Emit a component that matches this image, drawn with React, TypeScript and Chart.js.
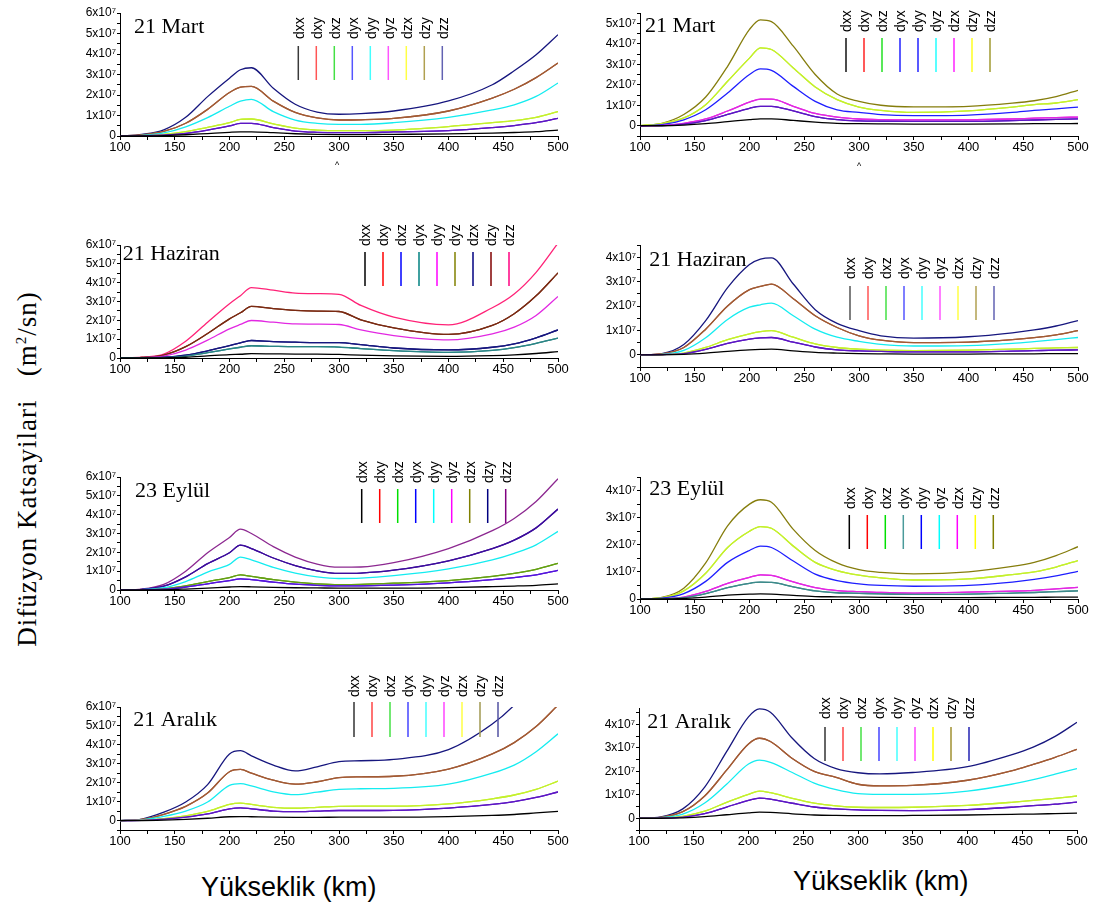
import React, { useEffect, useRef } from 'react';
import { Chart, registerables } from 'chart.js';

Chart.register(...registerables);

// ---------- shared axes ----------
const ALTITUDE_KM = [100, 120, 140, 160, 180, 200, 210, 220, 240, 260, 280, 300, 320, 350, 400, 440, 460, 480, 500];
const X_MAJOR = [100, 150, 200, 250, 300, 350, 400, 450, 500];
const X_MINOR = [125, 175, 225, 275, 325, 375, 425, 475];
const COMPONENTS = ['dxx', 'dxy', 'dxz', 'dyx', 'dyy', 'dyz', 'dzx', 'dzy', 'dzz'];

// values in units of 10^7 m^2/sn  (dyx = dxy, dzx = dxz, dzy = dyz)
// ---------- 21 Mart (left) ----------
const martA_dxx = [0, 0, 0.02, 0.06, 0.12, 0.18, 0.2, 0.2, 0.16, 0.11, 0.08, 0.07, 0.07, 0.08, 0.1, 0.14, 0.17, 0.21, 0.29];
const martA_dxy = [0, 0.01, 0.05, 0.13, 0.29, 0.49, 0.62, 0.62, 0.41, 0.24, 0.18, 0.16, 0.16, 0.2, 0.26, 0.41, 0.51, 0.65, 0.86];
const martA_dxz = [0, 0.01, 0.08, 0.21, 0.42, 0.65, 0.81, 0.83, 0.59, 0.38, 0.29, 0.26, 0.26, 0.29, 0.46, 0.65, 0.75, 0.91, 1.19];
const martA_dyy = [0, 0.03, 0.15, 0.45, 0.9, 1.45, 1.7, 1.79, 1.19, 0.78, 0.62, 0.57, 0.57, 0.65, 0.91, 1.27, 1.52, 1.93, 2.58];
const martA_dyz = [0, 0.05, 0.22, 0.62, 1.3, 2.12, 2.38, 2.42, 1.7, 1.15, 0.88, 0.78, 0.79, 0.86, 1.22, 1.85, 2.28, 2.85, 3.56];
const martA_dzz = [0, 0.08, 0.3, 0.91, 1.92, 2.82, 3.23, 3.33, 2.33, 1.55, 1.17, 1.06, 1.09, 1.22, 1.71, 2.5, 3.18, 3.96, 4.94];
// ---------- 21 Mart (right) ----------
const martB_dxx = [0, 0, 0.03, 0.1, 0.2, 0.3, 0.34, 0.34, 0.26, 0.18, 0.12, 0.1, 0.09, 0.08, 0.08, 0.09, 0.1, 0.1, 0.11];
const martB_dxy = [0, 0.01, 0.08, 0.25, 0.55, 0.85, 0.95, 0.95, 0.72, 0.45, 0.3, 0.24, 0.22, 0.21, 0.21, 0.25, 0.28, 0.31, 0.34];
const martB_dxz = [0, 0.02, 0.12, 0.33, 0.72, 1.15, 1.3, 1.3, 0.95, 0.6, 0.42, 0.33, 0.3, 0.29, 0.29, 0.33, 0.37, 0.4, 0.42];
const martB_dyy = [0, 0.05, 0.29, 0.78, 1.6, 2.5, 2.77, 2.7, 1.92, 1.19, 0.78, 0.65, 0.54, 0.49, 0.52, 0.65, 0.75, 0.82, 0.91];
const martB_dyz = [0, 0.1, 0.38, 1.03, 2.17, 3.3, 3.8, 3.72, 2.82, 1.89, 1.27, 0.91, 0.75, 0.65, 0.73, 0.91, 1.03, 1.11, 1.27];
const martB_dzz = [0, 0.12, 0.55, 1.4, 2.9, 4.7, 5.16, 5.08, 3.88, 2.5, 1.55, 1.19, 1.0, 0.92, 0.95, 1.1, 1.22, 1.42, 1.73];
// ---------- 21 Haziran (left) ----------
const hazA_dxx = [0, 0, 0.01, 0.04, 0.11, 0.18, 0.2, 0.23, 0.22, 0.21, 0.21, 0.19, 0.15, 0.11, 0.09, 0.13, 0.17, 0.24, 0.34];
const hazA_dxy = [0, 0, 0.02, 0.1, 0.28, 0.48, 0.57, 0.65, 0.62, 0.6, 0.6, 0.58, 0.5, 0.39, 0.3, 0.4, 0.55, 0.78, 1.06];
const hazA_dxz = [0, 0.01, 0.04, 0.15, 0.38, 0.66, 0.8, 0.93, 0.87, 0.84, 0.82, 0.82, 0.71, 0.53, 0.43, 0.57, 0.75, 1.07, 1.49];
const hazA_dyy = [0, 0.02, 0.1, 0.42, 0.95, 1.55, 1.78, 1.99, 1.9, 1.81, 1.8, 1.78, 1.49, 1.19, 0.96, 1.28, 1.64, 2.26, 3.27];
const hazA_dyz = [0, 0.03, 0.15, 0.6, 1.3, 2.08, 2.4, 2.74, 2.62, 2.53, 2.49, 2.47, 2.03, 1.6, 1.25, 1.73, 2.35, 3.3, 4.52];
const hazA_dzz = [0, 0.04, 0.21, 0.89, 1.9, 2.88, 3.31, 3.74, 3.6, 3.45, 3.42, 3.38, 2.79, 2.17, 1.76, 2.67, 3.4, 4.55, 6.1];
// ---------- 21 Haziran (right) ----------
const hazB_dxx = [0, 0, 0.02, 0.07, 0.14, 0.2, 0.22, 0.23, 0.16, 0.1, 0.07, 0.05, 0.04, 0.03, 0.03, 0.04, 0.04, 0.05, 0.05];
const hazB_dxy = [0, 0.01, 0.05, 0.22, 0.47, 0.64, 0.69, 0.71, 0.52, 0.32, 0.2, 0.16, 0.14, 0.12, 0.12, 0.15, 0.17, 0.19, 0.2];
const hazB_dxz = [0, 0.01, 0.07, 0.3, 0.62, 0.86, 0.95, 0.99, 0.72, 0.45, 0.3, 0.23, 0.19, 0.17, 0.19, 0.23, 0.26, 0.28, 0.3];
const hazB_dyy = [0, 0.02, 0.18, 0.7, 1.45, 1.95, 2.05, 2.12, 1.6, 1.05, 0.72, 0.55, 0.43, 0.36, 0.38, 0.47, 0.54, 0.62, 0.71];
const hazB_dyz = [0, 0.04, 0.3, 1.05, 2.0, 2.67, 2.8, 2.9, 2.3, 1.6, 1.12, 0.78, 0.6, 0.5, 0.52, 0.62, 0.7, 0.82, 0.99];
const hazB_dzz = [0, 0.05, 0.42, 1.4, 2.75, 3.7, 3.92, 3.97, 2.9, 1.85, 1.29, 0.99, 0.78, 0.68, 0.74, 0.9, 1.02, 1.18, 1.4];
// ---------- 23 Eylül (left) ----------
const eylA_dxx = [0, 0, 0.01, 0.05, 0.1, 0.16, 0.18, 0.17, 0.14, 0.12, 0.11, 0.1, 0.1, 0.1, 0.13, 0.18, 0.21, 0.25, 0.32];
const eylA_dxy = [0, 0.01, 0.04, 0.16, 0.33, 0.5, 0.59, 0.55, 0.42, 0.31, 0.25, 0.22, 0.22, 0.26, 0.38, 0.55, 0.66, 0.8, 1.04];
const eylA_dxz = [0, 0.01, 0.06, 0.22, 0.45, 0.66, 0.8, 0.72, 0.55, 0.42, 0.33, 0.29, 0.3, 0.36, 0.5, 0.72, 0.88, 1.1, 1.41];
const eylA_dyy = [0, 0.02, 0.12, 0.45, 0.95, 1.36, 1.75, 1.6, 1.2, 0.9, 0.7, 0.61, 0.63, 0.76, 1.12, 1.6, 1.95, 2.4, 3.11];
const eylA_dyz = [0, 0.03, 0.2, 0.7, 1.4, 1.98, 2.38, 2.2, 1.7, 1.3, 1.02, 0.88, 0.9, 1.05, 1.55, 2.2, 2.65, 3.3, 4.3];
const eylA_dzz = [0, 0.05, 0.3, 1.0, 1.98, 2.79, 3.23, 3.0, 2.3, 1.75, 1.38, 1.21, 1.22, 1.45, 2.2, 3.15, 3.8, 4.7, 5.91];
// ---------- 23 Eylül (right) ----------
const eylB_dxx = [0, 0, 0.02, 0.07, 0.14, 0.18, 0.19, 0.18, 0.13, 0.09, 0.08, 0.07, 0.06, 0.05, 0.05, 0.06, 0.06, 0.07, 0.07];
const eylB_dxy = [0, 0.01, 0.05, 0.2, 0.42, 0.58, 0.62, 0.61, 0.45, 0.3, 0.23, 0.21, 0.19, 0.17, 0.18, 0.22, 0.24, 0.27, 0.3];
const eylB_dxz = [0, 0.01, 0.07, 0.28, 0.58, 0.8, 0.89, 0.87, 0.63, 0.42, 0.31, 0.27, 0.24, 0.22, 0.25, 0.29, 0.32, 0.37, 0.43];
const eylB_dyy = [0, 0.03, 0.2, 0.65, 1.35, 1.79, 1.95, 1.9, 1.4, 0.92, 0.68, 0.56, 0.5, 0.47, 0.5, 0.62, 0.72, 0.85, 1.02];
const eylB_dyz = [0, 0.04, 0.3, 0.95, 1.9, 2.5, 2.67, 2.61, 1.95, 1.35, 1.05, 0.88, 0.78, 0.7, 0.74, 0.9, 1.0, 1.18, 1.42];
const eylB_dzz = [0, 0.06, 0.4, 1.33, 2.7, 3.5, 3.66, 3.57, 2.57, 1.79, 1.33, 1.08, 0.98, 0.93, 1.0, 1.2, 1.35, 1.6, 1.93];
// ---------- 21 Aralık (left) ----------
const araA_dxx = [0, 0, 0.02, 0.06, 0.12, 0.2, 0.21, 0.2, 0.18, 0.17, 0.17, 0.18, 0.18, 0.18, 0.21, 0.27, 0.32, 0.4, 0.48];
const araA_dxy = [0, 0.01, 0.07, 0.18, 0.35, 0.62, 0.67, 0.62, 0.5, 0.47, 0.5, 0.53, 0.53, 0.54, 0.66, 0.85, 1.0, 1.22, 1.51];
const araA_dxz = [0, 0.02, 0.1, 0.25, 0.48, 0.86, 0.92, 0.85, 0.7, 0.65, 0.7, 0.75, 0.76, 0.76, 0.88, 1.15, 1.35, 1.65, 2.08];
const araA_dyy = [0, 0.04, 0.22, 0.5, 0.98, 1.86, 1.95, 1.83, 1.52, 1.37, 1.5, 1.65, 1.68, 1.7, 1.92, 2.5, 2.93, 3.64, 4.58];
const araA_dyz = [0, 0.06, 0.33, 0.75, 1.45, 2.58, 2.7, 2.5, 2.13, 1.92, 2.05, 2.27, 2.31, 2.34, 2.72, 3.52, 4.12, 4.97, 6.1];
const araA_dzz = [0, 0.08, 0.44, 0.98, 1.9, 3.52, 3.69, 3.42, 2.93, 2.62, 2.84, 3.11, 3.16, 3.23, 3.75, 5.1, 6.1, 7.5, 9.0];
// ---------- 21 Aralık (right) ----------
const araB_dxx = [0, 0, 0.02, 0.07, 0.15, 0.23, 0.26, 0.25, 0.19, 0.14, 0.12, 0.11, 0.11, 0.12, 0.14, 0.17, 0.18, 0.2, 0.22];
const araB_dxy = [0, 0.01, 0.05, 0.2, 0.48, 0.76, 0.86, 0.82, 0.64, 0.48, 0.4, 0.36, 0.34, 0.33, 0.37, 0.47, 0.54, 0.6, 0.69];
const araB_dxz = [0, 0.01, 0.08, 0.3, 0.68, 1.02, 1.16, 1.09, 0.85, 0.65, 0.53, 0.47, 0.46, 0.47, 0.55, 0.68, 0.76, 0.85, 0.95];
const araB_dyy = [0, 0.03, 0.18, 0.65, 1.45, 2.31, 2.48, 2.38, 1.95, 1.5, 1.22, 1.05, 1.02, 1.02, 1.16, 1.45, 1.65, 1.88, 2.12];
const araB_dyz = [0, 0.04, 0.28, 0.95, 2.05, 3.17, 3.41, 3.27, 2.55, 2.0, 1.74, 1.45, 1.38, 1.4, 1.62, 2.02, 2.3, 2.6, 2.94];
const araB_dzz = [0, 0.06, 0.4, 1.33, 2.84, 4.32, 4.66, 4.52, 3.41, 2.55, 2.12, 1.94, 1.89, 1.95, 2.2, 2.7, 3.03, 3.49, 4.09];

// y tick labels (x10^7)
const Y_LABELS_6 = [0, 1, 2, 3, 4, 5, 6];
const Y_LABELS_5 = [0, 1, 2, 3, 4, 5];
const Y_LABELS_4 = [0, 1, 2, 3, 4];

// ---------- colours ----------
const C = {
  black: '#000000', navy: '#16167e', brown: '#a25a34', cyan: '#14ecf0', yg: '#c4f02c',
  purple: '#5c16c4', olive: '#857d0c', blue: '#1e1eff', magenta: '#e228e2', pink: '#ff2277',
  maroon: '#7a2a12', teal: '#2a8585', violet: '#5414dc', indigo: '#3c0c9c', plum: '#8c2890',
  olivegreen: '#64a012', tealgray: '#3c8a8a',
};

type Curve = [string, number[], string];
type PanelCfg = {
  title: string;
  left: number; top: number; width: number; height: number;
  yMin: number; yMax: number; yLabels: number[];
  curves: Curve[];
  legendColors: string[];
  titleDx: number; titleDy: number;
  legX: number; legTextBottom: number; legLineTop: number; legLineBottom: number;
};

const build = (d: number[][], cols: string[]): Curve[] => {
  // d = [dxx, dxy, dxz, dyy, dyz, dzz]; cols same order
  const [xx, xy, xz, yy, yz, zz] = d;
  const [cxx, cxy, cxz, cyy, cyz, czz] = cols;
  return [
    ['dxx', xx, cxx], ['dxy', xy, cxy], ['dxz', xz, cxz], ['dyx', xy, cxy], ['dyy', yy, cyy],
    ['dyz', yz, cyz], ['dzx', xz, cxz], ['dzy', yz, cyz], ['dzz', zz, czz],
  ];
};

const STD_COLS = [C.black, C.purple, C.yg, C.cyan, C.brown, C.navy];

const PANELS: PanelCfg[] = [
  {
    title: '21 Mart', left: 120, top: 13, width: 438, height: 123, yMin: 0, yMax: 6, yLabels: Y_LABELS_6,
    curves: build([martA_dxx, martA_dxy, martA_dxz, martA_dyy, martA_dyz, martA_dzz], STD_COLS),
    legendColors: ['#3a3a3a', '#ff5555', '#44e044', '#5555ff', '#44ffff', '#ff55ff', '#ffff44', '#b0a050', '#6262b2'],
    titleDx: 14, titleDy: 20, legX: 178.3, legTextBottom: 26, legLineTop: 33, legLineBottom: 67,
  },
  {
    title: '21 Mart', left: 640, top: 13, width: 438, height: 123, yMin: -0.5, yMax: 5.5, yLabels: Y_LABELS_5,
    curves: build([martB_dxx, martB_dxy, martB_dxz, martB_dyy, martB_dyz, martB_dzz], [C.black, C.purple, C.magenta, C.blue, C.yg, C.olive]),
    legendColors: ['#111111', '#ff2222', '#22e022', '#2222ff', '#2222ff', '#22ffff', '#ff22ff', '#ffff22', '#a09a30'],
    titleDx: 5, titleDy: 18.7, legX: 206, legTextBottom: 19, legLineTop: 25, legLineBottom: 59,
  },
  {
    title: '21 Haziran', left: 120, top: 245, width: 438, height: 113, yMin: 0, yMax: 6, yLabels: Y_LABELS_6,
    curves: build([hazA_dxx, hazA_dxy, hazA_dxz, hazA_dyy, hazA_dyz, hazA_dzz], [C.black, C.teal, C.navy, C.magenta, C.maroon, C.pink]),
    legendColors: ['#000000', '#ff0000', '#0000ff', '#008080', '#ff00ff', '#808000', '#000080', '#800000', '#ff0080'],
    titleDx: 2.7, titleDy: 15, legX: 245, legTextBottom: 1, legLineTop: 7, legLineBottom: 41,
  },
  {
    title: '21 Haziran', left: 640, top: 245, width: 438, height: 122, yMin: -0.5, yMax: 4.5, yLabels: Y_LABELS_4,
    curves: build([hazB_dxx, hazB_dxy, hazB_dxz, hazB_dyy, hazB_dyz, hazB_dzz], STD_COLS),
    legendColors: ['#555555', '#ff5555', '#44e044', '#5555ff', '#44ffff', '#ff55ff', '#ffff44', '#b0a050', '#6262b2'],
    titleDx: 9.3, titleDy: 21, legX: 210, legTextBottom: 34, legLineTop: 41, legLineBottom: 75,
  },
  {
    title: '23 Eylül', left: 120, top: 477, width: 438, height: 113, yMin: 0, yMax: 6, yLabels: Y_LABELS_6,
    curves: build([eylA_dxx, eylA_dxy, eylA_dxz, eylA_dyy, eylA_dyz, eylA_dzz], [C.black, C.violet, C.olivegreen, C.cyan, C.indigo, C.plum]),
    legendColors: ['#000000', '#ff0000', '#00e000', '#0000ff', '#00ffff', '#ff00ff', '#808000', '#000080', '#800080'],
    titleDx: 15, titleDy: 19.7, legX: 241.7, legTextBottom: 6, legLineTop: 12, legLineBottom: 46,
  },
  {
    title: '23 Eylül', left: 640, top: 477, width: 438, height: 122, yMin: 0, yMax: 4.5, yLabels: Y_LABELS_4,
    curves: build([eylB_dxx, eylB_dxy, eylB_dxz, eylB_dyy, eylB_dyz, eylB_dzz], [C.black, C.tealgray, C.magenta, C.blue, C.yg, C.olive]),
    legendColors: ['#000000', '#ff0000', '#00e000', '#4a9a9a', '#0000ff', '#00ffff', '#ff00ff', '#ffff00', '#808000'],
    titleDx: 9.3, titleDy: 18, legX: 209.3, legTextBottom: 32, legLineTop: 38, legLineBottom: 72,
  },
  {
    title: '21 Aralık', left: 120, top: 707, width: 438, height: 123, yMin: -0.5, yMax: 6, yLabels: Y_LABELS_6,
    curves: build([araA_dxx, araA_dxy, araA_dxz, araA_dyy, araA_dyz, araA_dzz], STD_COLS),
    legendColors: ['#333333', '#ff4444', '#44e044', '#4444ff', '#44ffff', '#ff44ff', '#ffff44', '#a09850', '#5252a2'],
    titleDx: 13.3, titleDy: 19, legX: 234, legTextBottom: -10, legLineTop: -5, legLineBottom: 30,
  },
  {
    title: '21 Aralık', left: 639, top: 708, width: 438, height: 122, yMin: -0.5, yMax: 4.7, yLabels: Y_LABELS_4,
    curves: build([araB_dxx, araB_dxy, araB_dxz, araB_dyy, araB_dyz, araB_dzz], STD_COLS),
    legendColors: ['#333333', '#ff4444', '#44e044', '#4444ff', '#44ffff', '#ff44ff', '#ffff00', '#a09030', '#2222b2'],
    titleDx: 8.3, titleDy: 20.3, legX: 186, legTextBottom: 11, legLineTop: 19, legLineBottom: 53,
  },
];

// canvas frame around each plot area
const Y_AXIS_W = 62;
const X_AXIS_H = 28;
const PAD_TOP = 45;
const PAD_RIGHT = 18;
const PAD_BOTTOM = 2;

const SANS = '"Liberation Sans", Arial, Helvetica, sans-serif';
const SERIF = '"Liberation Serif", "Times New Roman", Times, serif';

function decorPlugin(p: PanelCfg) {
  return {
    id: 'decor',
    afterDraw(chart: any) {
      const { ctx, chartArea: a } = chart;
      ctx.save();
      ctx.fillStyle = '#000';
      ctx.font = `22px ${SERIF}`;
      ctx.textAlign = 'left';
      ctx.textBaseline = 'alphabetic';
      ctx.fillText(p.title, a.left + p.titleDx, a.top + p.titleDy);
      COMPONENTS.forEach((lab, i) => {
        const x = a.left + p.legX + i * 18;
        ctx.strokeStyle = p.legendColors[i];
        ctx.lineWidth = 1.5;
        ctx.beginPath();
        ctx.moveTo(x, a.top + p.legLineTop);
        ctx.lineTo(x, a.top + p.legLineBottom);
        ctx.stroke();
        ctx.save();
        ctx.translate(x + 1.5, a.top + p.legTextBottom);
        ctx.rotate(-Math.PI / 2);
        ctx.font = `14px ${SANS}`;
        ctx.textAlign = 'left';
        ctx.textBaseline = 'middle';
        ctx.fillStyle = '#000';
        ctx.fillText(lab, 0, 0);
        ctx.restore();
      });
      ctx.restore();
    },
  };
}

function Panel({ cfg }: { cfg: PanelCfg }) {
  const ref = useRef<HTMLCanvasElement>(null);
  const cw = cfg.width + Y_AXIS_W + PAD_RIGHT;
  const ch = cfg.height + PAD_TOP + X_AXIS_H + PAD_BOTTOM;

  useEffect(() => {
    const canvas = ref.current;
    if (!canvas) return;
    const yTicks: number[] = [];
    for (let v = cfg.yMin; v <= cfg.yMax + 1e-9; v += 0.5) yTicks.push(Math.round(v * 10) / 10);
    const xTicks = [...X_MAJOR, ...X_MINOR].sort((a, b) => a - b);

    const chart = new Chart(canvas, {
      type: 'line',
      data: {
        datasets: cfg.curves.map(([label, values, color]) => ({
          label,
          data: ALTITUDE_KM.map((x, i) => ({ x, y: values[i] })),
          borderColor: color,
          backgroundColor: color,
          borderWidth: 1.3,
          pointRadius: 0,
          cubicInterpolationMode: 'monotone' as const,
          fill: false,
        })),
      },
      options: {
        responsive: false,
        animation: false,
        events: [],
        layout: { padding: { left: 0, top: PAD_TOP, right: PAD_RIGHT, bottom: PAD_BOTTOM } },
        plugins: { legend: { display: false }, tooltip: { enabled: false }, title: { display: false } },
        scales: {
          x: {
            type: 'linear',
            min: 100,
            max: 500,
            afterBuildTicks: (s: any) => { s.ticks = xTicks.map((v) => ({ value: v })); },
            afterFit: (s: any) => { s.height = X_AXIS_H; },
            ticks: {
              autoSkip: false, maxRotation: 0, minRotation: 0, padding: 0, color: '#000',
              font: { family: SANS, size: 13 },
              callback: (v: any) => (X_MAJOR.includes(Number(v)) ? String(v) : ''),
            },
            grid: { display: true, drawOnChartArea: false, drawTicks: true, tickLength: 4, color: '#000', lineWidth: 1 },
            border: { display: true, color: '#000', width: 1 },
          },
          y: {
            type: 'linear',
            min: cfg.yMin,
            max: cfg.yMax,
            afterBuildTicks: (s: any) => { s.ticks = yTicks.map((v) => ({ value: v })); },
            afterFit: (s: any) => { s.width = Y_AXIS_W; },
            ticks: {
              autoSkip: false, padding: 1, color: '#000',
              font: { family: SANS, size: 12 },
              callback: (v: any) => {
                const n = Number(v);
                if (!cfg.yLabels.includes(n)) return '';
                return n === 0 ? '0' : `${n}x10\u2077`;
              },
            },
            grid: { display: true, drawOnChartArea: false, drawTicks: true, tickLength: 3, color: '#000', lineWidth: 1 },
            border: { display: true, color: '#000', width: 1 },
          },
        },
      },
      plugins: [decorPlugin(cfg)],
    } as any);
    return () => chart.destroy();
  }, [cfg]);

  return (
    <canvas
      ref={ref}
      width={cw}
      height={ch}
      style={{ position: 'absolute', left: cfg.left - Y_AXIS_W, top: cfg.top - PAD_TOP, width: cw, height: ch }}
    />
  );
}

export default function App() {
  return (
    <div style={{ position: 'absolute', left: 0, top: 0, width: 1093, height: 907, background: '#fff', overflow: 'hidden' }}>
      {PANELS.map((p, i) => (
        <Panel key={i} cfg={p} />
      ))}
      <div
        style={{
          position: 'absolute', left: 27 - 210, top: 469 - 17, width: 420, height: 34, lineHeight: '34px',
          textAlign: 'center', transform: 'rotate(-90deg)', fontFamily: SERIF, fontSize: 27,
          letterSpacing: 1, whiteSpace: 'pre', color: '#000',
        }}
      >
        {'Difüzyon Katsayilari   (m'}
        <span style={{ fontSize: 15, verticalAlign: 'super', lineHeight: 0 }}>2</span>
        {'/sn)'}
      </div>
      <div style={{ position: 'absolute', left: 201, top: 874, fontFamily: SANS, fontSize: 27, lineHeight: '27px', whiteSpace: 'pre', color: '#000' }}>
        Yükseklik (km)
      </div>
      <div style={{ position: 'absolute', left: 793, top: 868, fontFamily: SANS, fontSize: 27, lineHeight: '27px', whiteSpace: 'pre', color: '#000' }}>
        Yükseklik (km)
      </div>
      <div style={{ position: 'absolute', left: 335, top: 160, fontFamily: SANS, fontSize: 9, color: '#000' }}>^</div>
      <div style={{ position: 'absolute', left: 857, top: 161, fontFamily: SANS, fontSize: 9, color: '#000' }}>^</div>
    </div>
  );
}
